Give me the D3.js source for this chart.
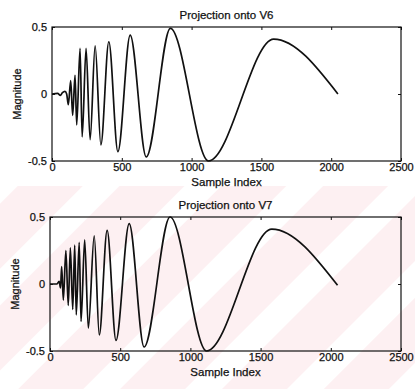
<!DOCTYPE html>
<meta charset="utf-8">
<style>
  body { margin: 0; background: #fff; }
  text { font-family: "Liberation Sans", Arial, sans-serif; fill: #111; stroke: #111; stroke-width: 0.25px; }
  .frame { fill: none; stroke: #111; stroke-width: 1.2px; }
  .wave { fill: none; stroke: #111; stroke-width: 1.7px; stroke-linejoin: round; }
  .axis path { display: none; }
  .axis line { stroke: #111; stroke-width: 1px; }
  .axis text { font-size: 11px; }
</style>
<svg width="415" height="389"></svg>
<script src="https://d3js.org/d3.v7.min.js"></script>
<script>

// sample index / magnitude at the turning points
var v6Index = [0, 40, 60, 75, 93, 105, 117, 134, 148, 165, 177, 201, 216, 244, 273, 309, 350, 407, 472, 560, 675, 848, 1121, 1588, 2048];
var v6Value = [0, 0.005, -0.01, 0.01, 0.02, 0.0, -0.08, 0.10, -0.16, 0.14, -0.23, 0.34, -0.32, 0.34, -0.34, 0.36, -0.38, 0.39, -0.43, 0.44, -0.47, 0.49, -0.5, 0.41, 0.0];

var v7Index = [0, 50, 65, 75, 83, 95, 113, 130, 145, 162, 176, 187, 208, 221, 247, 273, 315, 351, 407, 470, 564, 670, 855, 1115, 1580, 2048];
var v7Value = [0, 0.0, 0.02, -0.03, 0.13, -0.12, 0.25, -0.16, 0.27, -0.19, 0.29, -0.23, 0.31, -0.28, 0.33, -0.33, 0.36, -0.38, 0.40, -0.42, 0.45, -0.47, 0.50, -0.5, 0.41, -0.01];

var titles = ["Projection onto V6", "Projection onto V7"];
var xLabel = "Sample Index";
var yLabel = "Magnitude";
var xTicks = [0, 500, 1000, 1500, 2000, 2500];
var yTicks = [-0.5, 0, 0.5];

var svg = d3.select("svg");

// faint pink diagonal watermark over the lower half of the page
var defs = svg.append("defs");
var pat = defs.append("pattern")
    .attr("id", "stripes")
    .attr("width", 72).attr("height", 72)
    .attr("patternUnits", "userSpaceOnUse")
    .attr("patternTransform", "rotate(45)");
pat.append("rect").attr("width", 46).attr("height", 72).attr("fill", "#fdf0f2");
svg.append("rect")
    .attr("x", 0).attr("y", 186)
    .attr("width", 415).attr("height", 203)
    .attr("fill", "url(#stripes)");

var panels = [
  {left: 52, right: 401, top: 27, bottom: 161, idx: v6Index, val: v6Value},
  {left: 50, right: 401, top: 217, bottom: 351, idx: v7Index, val: v7Value}
];

panels.forEach(function(p, i) {
  var w = p.right - p.left, h = p.bottom - p.top;
  var x = d3.scaleLinear().domain([0, 2500]).range([0, w]);
  var y = d3.scaleLinear().domain([-0.5, 0.5]).range([h, 0]);

  var g = svg.append("g").attr("transform", "translate(" + p.left + "," + p.top + ")");

  var pts = p.idx.map(function(d, j) { return [d, p.val[j]]; });

  var line = d3.line()
      .x(function(d) { return x(d[0]); })
      .y(function(d) { return y(d[1]); })
      .curve(d3.curveMonotoneX);

  g.append("path").datum(pts).attr("class", "wave").attr("d", line);

  // matlab style ticks: inward, on all four sides
  g.append("g").attr("class", "axis")
      .attr("transform", "translate(0," + h + ")")
      .call(d3.axisBottom(x).tickValues(xTicks).tickSizeInner(-3).tickSizeOuter(0).tickPadding(2)
        .tickFormat(function(d) { return String(d); }));
  g.append("g").attr("class", "axis")
      .call(d3.axisTop(x).tickValues(xTicks).tickSizeInner(-3).tickSizeOuter(0).tickFormat(""));
  g.append("g").attr("class", "axis")
      .call(d3.axisLeft(y).tickValues(yTicks).tickSizeInner(-3).tickSizeOuter(0).tickPadding(5)
        .tickFormat(function(d) { return String(d); }));
  g.append("g").attr("class", "axis")
      .attr("transform", "translate(" + w + ",0)")
      .call(d3.axisRight(y).tickValues(yTicks).tickSizeInner(-3).tickSizeOuter(0).tickFormat(""));

  g.append("rect").attr("class", "frame").attr("width", w).attr("height", h);

  g.append("text")
      .attr("x", w / 2).attr("y", -8)
      .attr("text-anchor", "middle")
      .style("font-size", "11.5px")
      .text(titles[i]);

  g.append("text")
      .attr("x", w / 2).attr("y", h + 25)
      .attr("text-anchor", "middle")
      .style("font-size", "11.5px")
      .text(xLabel);

  g.append("text")
      .attr("transform", "translate(" + (-31) + "," + (h / 2) + ") rotate(-90)")
      .attr("text-anchor", "middle")
      .style("font-size", "11px")
      .text(yLabel);
});

</script>
